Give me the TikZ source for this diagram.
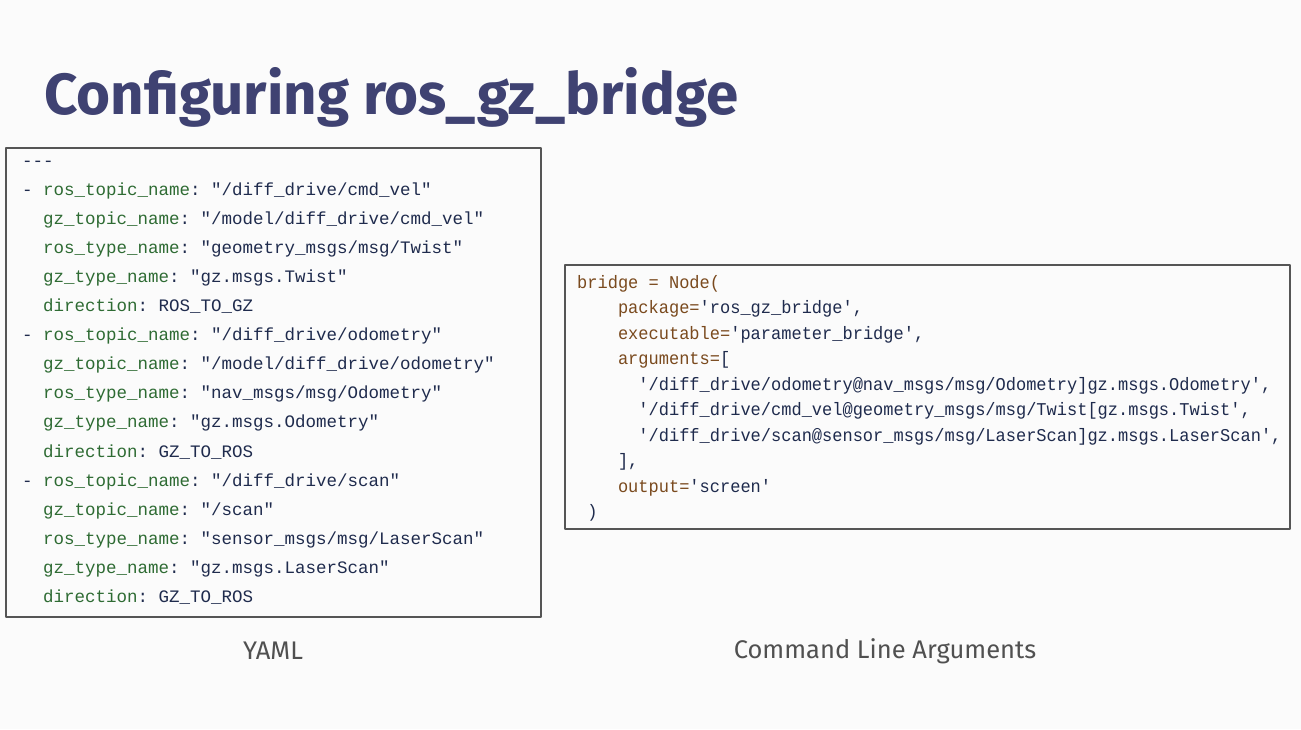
\documentclass[tikz,border=0pt]{standalone}
\usepackage{fontspec}
\setmainfont{Fira Sans}
\setmonofont[Ligatures=TeXOff]{Liberation Mono}
\newfontfamily\narrowmono[FakeStretch=0.945,Ligatures=TeXOff]{Liberation Mono}
\usepackage{graphicx}
\usepackage{xcolor}
\usetikzlibrary{positioning}

\definecolor{titleblue}{HTML}{3F4272}
\definecolor{yamlkey}{HTML}{2E6B33}
\definecolor{codeval}{HTML}{1F2B4D}
\definecolor{pykey}{HTML}{7A4A1E}
\definecolor{framegray}{HTML}{555555}
\definecolor{capgray}{HTML}{505050}
\definecolor{slidebg}{HTML}{FBFBFB}

\newcommand{\yk}[1]{\textcolor{yamlkey}{#1}}
\newcommand{\pk}[1]{\textcolor{pykey}{#1}}
\newcommand{\ic}[1]{\hspace*{#1\fontcharwd\font`0}}

\begin{document}
\begin{tikzpicture}[line cap=round,line join=round, x=1pt,y=-1pt,
  yamlline/.style={anchor=base west, inner sep=0, text=codeval,
    font=\ttfamily\fontsize{17.5}{20}\selectfont},
  argline/.style={anchor=base west, inner sep=0, text=codeval,
    font=\narrowmono\fontsize{18}{20}\selectfont},
  codebox/.style={draw=framegray, line width=1.3pt},
  caption/.style={text=capgray, font=\fontsize{25.5}{30}\selectfont}]
\fill[slidebg] (0,0) rectangle (1301,729);
% title
\node[anchor=base west, inner sep=0, text=titleblue] (title) at (44,114)
  {\resizebox{694pt}{\height}{\fontsize{58}{60}\selectfont\bfseries Configuring ros\_gz\_bridge}};
% yaml box
\draw[codebox] (6,148) rectangle (541,617);
\foreach \ln [count=\i] in {
  {---},
  {- \yk{ros\_topic\_name}: "/diff\_drive/cmd\_vel"},
  {\ic{2}\yk{gz\_topic\_name}: "/model/diff\_drive/cmd\_vel"},
  {\ic{2}\yk{ros\_type\_name}: "geometry\_msgs/msg/Twist"},
  {\ic{2}\yk{gz\_type\_name}: "gz.msgs.Twist"},
  {\ic{2}\yk{direction}: ROS\_TO\_GZ},
  {- \yk{ros\_topic\_name}: "/diff\_drive/odometry"},
  {\ic{2}\yk{gz\_topic\_name}: "/model/diff\_drive/odometry"},
  {\ic{2}\yk{ros\_type\_name}: "nav\_msgs/msg/Odometry"},
  {\ic{2}\yk{gz\_type\_name}: "gz.msgs.Odometry"},
  {\ic{2}\yk{direction}: GZ\_TO\_ROS},
  {- \yk{ros\_topic\_name}: "/diff\_drive/scan"},
  {\ic{2}\yk{gz\_topic\_name}: "/scan"},
  {\ic{2}\yk{ros\_type\_name}: "sensor\_msgs/msg/LaserScan"},
  {\ic{2}\yk{gz\_type\_name}: "gz.msgs.LaserScan"},
  {\ic{2}\yk{direction}: GZ\_TO\_ROS}}
  \node[yamlline] (yaml\i) at (22,{166+29.1*(\i-1)}) {\ln};
% launch arguments box
\draw[codebox] (565,265) rectangle (1290,529);
\foreach \ln [count=\i] in {
  {\pk{bridge = Node(}},
  {\ic{4}\pk{package=}'ros\_gz\_bridge',},
  {\ic{4}\pk{executable=}'parameter\_bridge',},
  {\ic{4}\pk{arguments=}[},
  {\ic{6}'/diff\_drive/odometry@nav\_msgs/msg/Odometry]gz.msgs.Odometry',},
  {\ic{6}'/diff\_drive/cmd\_vel@geometry\_msgs/msg/Twist[gz.msgs.Twist',},
  {\ic{6}'/diff\_drive/scan@sensor\_msgs/msg/LaserScan]gz.msgs.LaserScan',},
  {\ic{4}],},
  {\ic{4}\pk{output=}'screen'},
  {\ic{1})}}
  \node[argline] (arg\i) at (577,{288+25.5*(\i-1)}) {\ln};
% captions
\node[caption] (yamlcap) at (273,651) {YAML};
\node[caption] (argcap) at (885,651) {Command Line Arguments};
\end{tikzpicture}
\end{document}
